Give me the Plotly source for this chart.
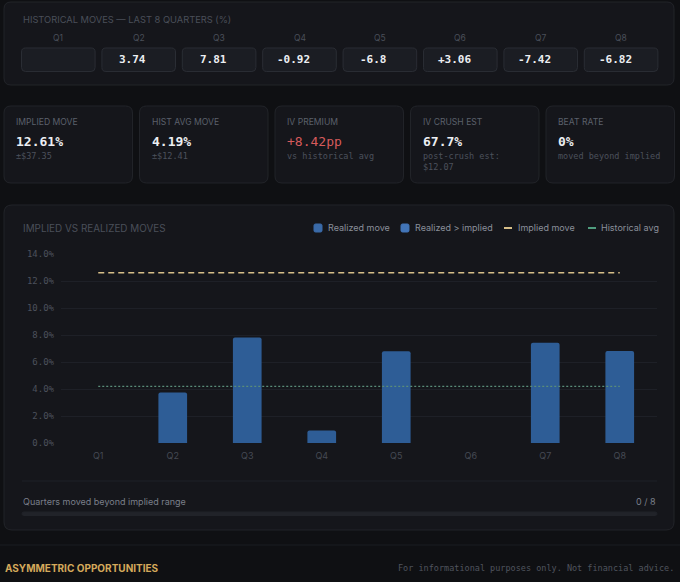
import plotly.graph_objects as go

W, H = 680, 582

# ---- data ----
quarters = ["Q1", "Q2", "Q3", "Q4", "Q5", "Q6", "Q7", "Q8"]
move_labels = ["", "3.74", "7.81", "-0.92", "-6.8", "+3.06", "-7.42", "-6.82"]
realized = [None, 3.74, 7.81, 0.92, 6.8, None, 7.42, 6.82]
implied_move = 12.61
hist_avg = 4.19

stat_labels = ["IMPLIED MOVE", "HIST AVG MOVE", "IV PREMIUM", "IV CRUSH EST", "BEAT RATE"]
stat_values = ["12.61%", "4.19%", "+8.42pp", "67.7%", "0%"]
stat_subs = ["±$37.35", "±$12.41", "vs historical avg", "post-crush est:<br>$12.07", "moved beyond implied"]
beat_count = 0

beyond = [v if (v is not None and v > implied_move) else None for v in realized]

# ---- colours / fonts ----
BG = "#0f1013"
CARD = "#15161b"
CARD_LINE = "#222429"
BOX = "#1b1d23"
BOX_LINE = "#2a2d34"
DIM = "#5b606b"
DIMMER = "#4a4f59"
WHITE = "#eceef2"
BLUE = "#2e5d96"
BLUE_LEG = "#3a6aa8"
BLUE_HI = "#4275b8"
TAN = "#d6be88"
GREEN = "#5a8d79"
GREEN_LEG = "#4f9c7e"
GOLD = "#d4a95b"
RED = "#d65b5b"
SANS = "Inter, Noto Sans, sans-serif"
MONO = "DejaVu Sans Mono, monospace"


def fx(x):
    return x / W


def fy(y):
    return 1 - y / H


def rrect(x0, y0, x1, y1, r, fill, line=None):
    pts = [
        ("M", (x0 + r, y0)), ("L", (x1 - r, y0)), ("Q", (x1, y0), (x1, y0 + r)),
        ("L", (x1, y1 - r)), ("Q", (x1, y1), (x1 - r, y1)),
        ("L", (x0 + r, y1)), ("Q", (x0, y1), (x0, y1 - r)),
        ("L", (x0, y0 + r)), ("Q", (x0, y0), (x0 + r, y0)),
    ]
    path = ""
    for p in pts:
        path += p[0] + " " + " ".join(f"{fx(a):.5f},{fy(b):.5f}" for a, b in p[1:]) + " "
    return dict(type="path", xref="paper", yref="paper", path=path + "Z",
                fillcolor=fill, line=dict(color=line or fill, width=1), layer="below")


def hline(x0, x1, y, color, width=1):
    return dict(type="line", xref="paper", yref="paper", x0=fx(x0), x1=fx(x1),
                y0=fy(y), y1=fy(y), line=dict(color=color, width=width), layer="below")


annots = []


def text(x, y, s, size, color, family=SANS, anchor="left", weight="normal"):
    annots.append(dict(x=fx(x), y=fy(y), xref="paper", yref="paper", text=s,
                       showarrow=False, xanchor=anchor, yanchor="middle", align=anchor,
                       font=dict(size=size, color=color, family=family, weight=weight)))


shapes = []

# ---- historical moves card ----
shapes.append(rrect(4, 2, 674, 85, 7, CARD, CARD_LINE))
text(21, 20, "HISTORICAL MOVES — LAST 8 QUARTERS (%)", 9.3, DIMMER)
for i, q in enumerate(quarters):
    bx0 = 21.5 + i * 80.4
    bx1 = bx0 + 73.6
    cx = (bx0 + bx1) / 2
    shapes.append(rrect(bx0, 48, bx1, 71.5, 4, BOX, BOX_LINE))
    text(cx, 38, q, 8.5, DIMMER, anchor="center")
    if move_labels[i]:
        text(cx - 6, 60, move_labels[i], 11, WHITE, MONO, "center", "bold")

# ---- stat cards ----
for i, lab in enumerate(stat_labels):
    x0 = 4 + i * 135.5
    shapes.append(rrect(x0, 106, x0 + 128.5, 183, 7, CARD, CARD_LINE))
    text(x0 + 10, 122, lab, 8.6, DIM)
    is_red = stat_values[i].startswith("+")
    text(x0 + 10, 141, stat_values[i], 13, RED if is_red else WHITE, MONO,
         weight="normal" if is_red else "bold")
    ys = 161.5 if "<br>" in stat_subs[i] else 156
    text(x0 + 10, ys, stat_subs[i], 8.5, "#4c515b", MONO)

# ---- chart card ----
shapes.append(rrect(4, 205, 674, 530, 8, CARD, CARD_LINE))
text(21, 228, "IMPLIED VS REALIZED MOVES", 9.9, DIMMER)

# legend
leg = [("Realized move", "box", BLUE_LEG, 314, 327),
       ("Realized > implied", "box", BLUE_HI, 401, 414),
       ("Implied move", "line", TAN, 504, 517),
       ("Historical avg", "line", GREEN_LEG, 588, 600)]
for name, kind, col, sx, tx in leg:
    if kind == "box":
        shapes.append(rrect(sx, 224, sx + 8, 232, 1.5, col))
    else:
        shapes.append(hline(sx, sx + 8, 228, col, 2))
    text(tx - 1, 228, name, 9, "#8a8f9a")

shapes.append(hline(22, 657, 481, "#1f2128"))
text(21, 501, "Quarters moved beyond implied range", 9, "#7a7f8a")
text(658, 501, f"{beat_count} / {len(quarters)}", 9, "#7a7f8a", anchor="right")
shapes.append(rrect(22, 512, 657, 515.5, 1.7, "#212329"))

# ---- footer ----
shapes.append(hline(0, 680, 545, "#1b1c22"))
text(3, 568, "ASYMMETRIC OPPORTUNITIES", 10, GOLD, weight="bold")
text(676, 568, "For informational purposes only. Not financial advice.", 8.5, "#4f545e", MONO, "right")

# ---- traces ----
fig = go.Figure()
fig.add_bar(x=quarters, y=realized, name="Realized move",
            marker=dict(color=BLUE, cornerradius=2, line=dict(width=0)), width=0.385)
fig.add_bar(x=quarters, y=beyond, name="Realized > implied",
            marker=dict(color=BLUE_HI, cornerradius=2, line=dict(width=0)), width=0.385)
fig.add_scatter(x=quarters, y=[implied_move] * len(quarters), mode="lines", name="Implied move",
                line=dict(color=TAN, width=1.5, dash="6px,4px"))
fig.add_scatter(x=quarters, y=[hist_avg] * len(quarters), mode="lines", name="Historical avg",
                line=dict(color=GREEN, width=1.2, dash="2px,2px"))

fig.update_layout(
    width=W, height=H, margin=dict(l=0, r=0, t=0, b=0, pad=0, autoexpand=False),
    paper_bgcolor=BG, plot_bgcolor="rgba(0,0,0,0)",
    showlegend=False, barmode="overlay",
    shapes=shapes, annotations=annots,
    xaxis=dict(domain=[fx(61), fx(657)], type="category", range=[-0.5, 7.5], automargin=False,
               showgrid=False, zeroline=False, showline=False, ticks="",
               tickfont=dict(family=SANS, size=9, color="#454a54"), ticklabelstandoff=6),
    yaxis=dict(domain=[fy(443), fy(254)], range=[0, 14], dtick=2, tickformat=".1f", ticksuffix="%",
               automargin=False, gridcolor="#1e2027", gridwidth=1, zeroline=False, showline=False,
               ticks="", tickfont=dict(family=MONO, size=9, color="#4c515b"), ticklabelstandoff=6),
)

fig.write_html("out.html", config={"displayModeBar": False, "responsive": False},
               post_script="document.body.style.margin='0';document.body.style.background='%s';" % BG)
